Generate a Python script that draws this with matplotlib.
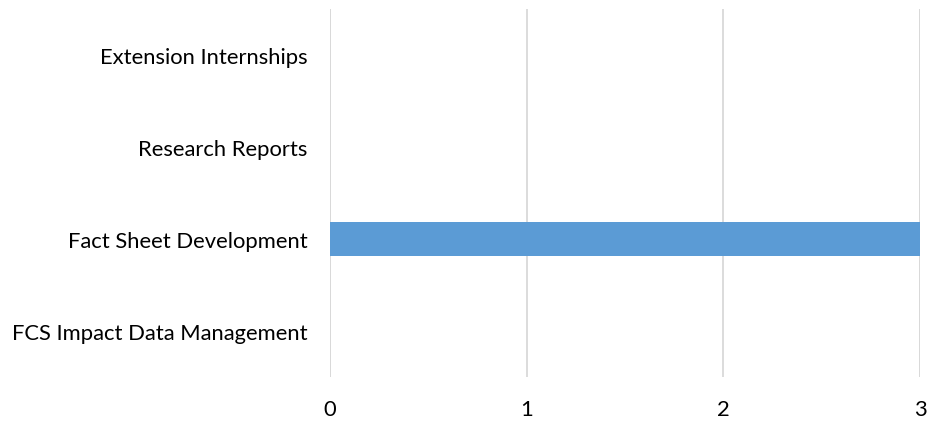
import matplotlib.pyplot as plt

# categories bottom to top
categories = ["FCS Impact Data Management", "Fact Sheet Development", "Research Reports", "Extension Internships"]
values = [0, 3, 0, 0]
xticks = [0, 1, 2, 3]

plt.rcParams['font.family'] = ['Lato', 'DejaVu Sans']

fig = plt.figure(figsize=(9.33, 4.27), dpi=100)
ax = fig.add_axes([330/933, 1-378/427, 590/933, 368/427])

ax.barh(range(len(categories)), values, height=0.37, color='#5B9BD5', zorder=3)

ax.set_xlim(0, 3)
ax.set_ylim(-0.5, len(categories) - 0.5)
ax.set_xticks(xticks)
ax.set_yticks(range(len(categories)))
ax.set_yticklabels(categories)
ax.grid(axis='x', color='#D9D9D9', lw=1.3, zorder=0)
ax.axvline(0, color='#D9D9D9', lw=1.3, zorder=0)
ax.axvline(3, color='#D9D9D9', lw=1.3, zorder=0)
for s in ax.spines.values():
    s.set_visible(False)
ax.tick_params(axis='both', length=0, labelsize=15.8, colors='#000000')
ax.tick_params(axis='x', pad=16)
ax.tick_params(axis='y', pad=16)

fig.savefig('out.png', dpi=100)
